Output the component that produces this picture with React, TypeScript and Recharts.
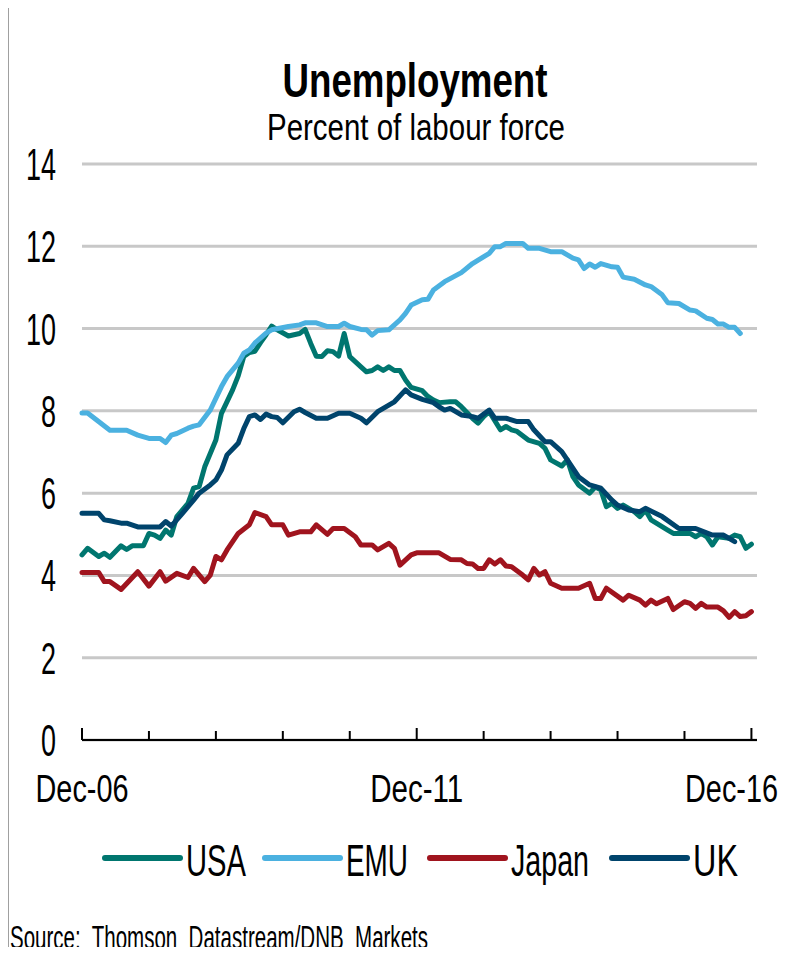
import React from "react";
import { LineChart, Line, XAxis, YAxis, CartesianGrid } from "recharts";

// month index: 0 = Dec-06, 120 = Dec-16
const usa: [number, number][] = [
  [0, 4.5], [1, 4.66], [3, 4.46], [4, 4.54], [5, 4.44], [7, 4.72], [8, 4.63], [9, 4.72], [11, 4.72],
  [12, 5.02], [13, 4.98], [14, 4.9], [15, 5.1], [16, 4.98], [17, 5.43], [19, 5.75], [20, 6.12],
  [21, 6.16], [22, 6.64], [24, 7.29], [25, 7.94], [27, 8.51], [28, 8.85], [29, 9.32], [30, 9.42],
  [31, 9.45], [32, 9.66], [33, 9.85], [34, 10.06], [35, 9.97], [37, 9.82], [39, 9.88], [40, 9.98],
  [41, 9.64], [42, 9.33], [43, 9.32], [44, 9.46], [45, 9.44], [46, 9.33], [47, 9.88], [48, 9.32],
  [50, 9.07], [51, 8.95], [52, 8.98], [53, 9.07], [54, 8.98], [55, 9.07], [56, 8.98], [57, 8.98],
  [58, 8.75], [59, 8.57], [61, 8.49], [62, 8.35], [63, 8.26], [64, 8.2], [66, 8.22], [67, 8.22],
  [68, 8.1], [70, 7.82], [71, 7.7], [72, 7.86], [73, 7.98], [75, 7.54], [76, 7.62], [77, 7.54],
  [78, 7.5], [80, 7.29], [82, 7.21], [83, 7.09], [84, 6.81], [86, 6.66], [87, 6.81], [88, 6.4],
  [89, 6.2], [91, 6.0], [92, 6.15], [93, 6.08], [94, 5.67], [95, 5.75], [96, 5.63], [97, 5.71],
  [99, 5.55], [100, 5.43], [101, 5.59], [102, 5.35], [105, 5.1], [106, 5.02], [109, 5.02],
  [110, 4.94], [111, 5.02], [112, 4.94], [113, 4.74], [114, 4.94], [116, 4.9], [117, 4.98],
  [118, 4.94], [119, 4.66], [120, 4.76],
];

const emu: [number, number][] = [
  [0, 7.95], [1, 7.95], [5, 7.53], [8, 7.53], [10, 7.41], [12, 7.33], [14, 7.33], [15, 7.23],
  [16, 7.41], [17, 7.45], [19, 7.58], [20, 7.63], [21, 7.66], [23, 8.02], [25, 8.59], [26, 8.83],
  [28, 9.16], [29, 9.4], [30, 9.48], [31, 9.65], [33, 9.89], [34, 9.97], [37, 10.05], [39, 10.09],
  [40, 10.14], [42, 10.14], [44, 10.05], [46, 10.05], [47, 10.13], [48, 10.05], [50, 9.98],
  [51, 9.97], [52, 9.84], [53, 9.95], [55, 9.97], [56, 10.09], [57, 10.21], [58, 10.37],
  [59, 10.57], [61, 10.7], [62, 10.71], [63, 10.94], [65, 11.14], [68, 11.36], [70, 11.58],
  [73, 11.83], [74, 11.99], [75, 11.99], [76, 12.07], [79, 12.07], [80, 11.95], [82, 11.95],
  [84, 11.87], [86, 11.87], [88, 11.71], [89, 11.67], [90, 11.46], [91, 11.57], [92, 11.49],
  [93, 11.58], [95, 11.5], [96, 11.49], [97, 11.25], [99, 11.2], [101, 11.06], [102, 11.02],
  [104, 10.82], [105, 10.63], [107, 10.61], [109, 10.45], [110, 10.43], [112, 10.25], [113, 10.22],
  [114, 10.11], [115, 10.11], [116, 10.03], [117, 10.03], [118, 9.88],
];

const japan: [number, number][] = [
  [0, 4.07], [3, 4.07], [4, 3.85], [5, 3.85], [7, 3.66], [10, 4.09], [12, 3.74], [14, 4.09],
  [15, 3.86], [17, 4.05], [19, 3.95], [20, 4.17], [22, 3.85], [23, 4.01], [24, 4.46], [25, 4.38],
  [26, 4.62], [28, 5.02], [30, 5.23], [31, 5.53], [33, 5.43], [34, 5.23], [36, 5.23], [37, 4.98],
  [39, 5.06], [41, 5.06], [42, 5.23], [44, 5.0], [45, 5.14], [47, 5.14], [49, 4.94], [50, 4.74],
  [52, 4.74], [53, 4.62], [55, 4.78], [56, 4.66], [57, 4.25], [59, 4.5], [60, 4.55], [64, 4.55],
  [66, 4.39], [68, 4.38], [69, 4.29], [70, 4.28], [71, 4.17], [72, 4.17], [73, 4.38], [74, 4.28],
  [75, 4.38], [76, 4.23], [77, 4.21], [79, 4.01], [80, 3.89], [81, 4.17], [82, 4.01], [83, 4.09],
  [84, 3.81], [86, 3.69], [89, 3.69], [91, 3.81], [92, 3.44], [93, 3.44], [94, 3.69], [97, 3.4],
  [98, 3.52], [100, 3.4], [101, 3.28], [102, 3.4], [103, 3.31], [105, 3.44], [106, 3.17],
  [108, 3.36], [109, 3.32], [110, 3.2], [111, 3.32], [112, 3.23], [114, 3.23], [115, 3.14],
  [116, 2.98], [117, 3.12], [118, 3.0], [119, 3.02], [120, 3.12],
];

const uk: [number, number][] = [
  [0, 5.51], [3, 5.51], [4, 5.35], [5, 5.33], [7, 5.27], [8, 5.27], [10, 5.18], [14, 5.18],
  [15, 5.31], [16, 5.2], [18, 5.51], [20, 5.83], [21, 6.0], [23, 6.2], [24, 6.32], [25, 6.56],
  [26, 6.93], [28, 7.21], [29, 7.57], [30, 7.86], [31, 7.9], [32, 7.79], [33, 7.92], [34, 7.86],
  [35, 7.84], [36, 7.71], [38, 7.98], [39, 8.04], [40, 7.96], [42, 7.82], [44, 7.82], [46, 7.94],
  [48, 7.94], [50, 7.82], [51, 7.71], [53, 7.98], [56, 8.22], [58, 8.51], [59, 8.39], [61, 8.28],
  [63, 8.2], [64, 8.1], [65, 8.02], [66, 8.06], [68, 7.9], [70, 7.86], [71, 7.82], [73, 8.02],
  [74, 7.82], [76, 7.82], [78, 7.74], [80, 7.74], [81, 7.54], [83, 7.25], [84, 7.25], [86, 7.01],
  [87, 6.81], [89, 6.4], [91, 6.2], [93, 6.12], [95, 5.83], [96, 5.71], [98, 5.59], [100, 5.55],
  [101, 5.63], [104, 5.43], [107, 5.14], [110, 5.14], [113, 4.98], [115, 4.98], [117, 4.82],
];

const yTicks = [0, 2, 4, 6, 8, 10, 12, 14];
const xTicks = [0, 12, 24, 36, 48, 60, 72, 84, 96, 108, 120];
const xLabelMonths = [0, 60, 120];
const xLabels = ["Dec-06", "Dec-11", "Dec-16"];

const series = [
  { key: "usa", name: "USA", color: "#00766f", points: usa },
  { key: "emu", name: "EMU", color: "#4bb1e0", points: emu },
  { key: "japan", name: "Japan", color: "#a0141e", points: japan },
  { key: "uk", name: "UK", color: "#00446c", points: uk },
];

// one row per month, gaps where nothing was read
const rows = Array.from({ length: 121 }, (_, m) => {
  const row: Record<string, number | null> = { m };
  series.forEach((s) => {
    const hit = s.points.find((p) => p[0] === m);
    row[s.key] = hit ? hit[1] : null;
  });
  return row;
});

const FONT = '"Liberation Sans Narrow", "Arial Narrow", "Liberation Sans", Arial, sans-serif';

const FitText = ({ x, y, size, width, anchor = "start", bold = false, children }: any) => (
  <text
    x={x}
    y={y}
    fontSize={size}
    fontFamily={FONT}
    fontWeight={bold ? 700 : 400}
    textAnchor={anchor}
    textLength={width}
    lengthAdjust="spacingAndGlyphs"
    fill="#000"
    style={{ whiteSpace: "pre" }}
  >
    {children}
  </text>
);

const YTick = ({ y, payload }: any) => {
  const label = String(payload.value);
  return (
    <FitText x={56} y={y + 16} size={44} width={label.length * 15} anchor="end">
      {label}
    </FitText>
  );
};

const XTick = ({ x, y, payload }: any) => {
  const idx = xLabelMonths.indexOf(payload.value);
  const last = idx === xLabels.length - 1;
  return (
    <g>
      <line x1={x} x2={x} y1={y} y2={y - (idx >= 0 ? 12 : 9)} stroke="#000" strokeWidth={2} />
      {idx >= 0 && (
        <FitText x={last ? 778 : x} y={y + 62} size={38} width={93} anchor={last ? "end" : "middle"}>
          {xLabels[idx]}
        </FitText>
      )}
    </g>
  );
};

const legendX = [105, 265, 430, 612];
const legendW = [60, 62, 78, 45];

export default function App() {
  return (
    <div style={{ position: "relative", width: 808, height: 955, margin: -8, background: "#fff" }}>
      <LineChart
        width={808}
        height={955}
        data={rows}
        margin={{ top: 164, right: 51, bottom: 0, left: 0 }}
      >
        <CartesianGrid vertical={false} stroke="#c8c8c8" strokeWidth={3} />
        <XAxis
          dataKey="m"
          type="number"
          domain={[0, 121]}
          ticks={xTicks}
          interval={0}
          height={215}
          tickSize={0}
          tickMargin={0}
          tickLine={false}
          axisLine={{ stroke: "#000", strokeWidth: 2 }}
          tick={<XTick />}
        />
        <YAxis
          width={82}
          domain={[0, 14]}
          ticks={yTicks}
          interval={0}
          axisLine={false}
          tickLine={false}
          tick={<YTick />}
        />
        {series.map((s) => (
          <Line
            key={s.key}
            dataKey={s.key}
            name={s.name}
            type="linear"
            stroke={s.color}
            strokeWidth={5}
            strokeLinejoin="round"
            strokeLinecap="round"
            dot={false}
            activeDot={false}
            connectNulls
            isAnimationActive={false}
          />
        ))}
      </LineChart>
      <svg
        width={808}
        height={955}
        style={{ position: "absolute", left: 0, top: 0, pointerEvents: "none" }}
      >
        <rect x={7} y={0} width={2} height={955} fill="#a0a0a0" />
        <FitText x={415} y={97} size={48} width={265} anchor="middle" bold>
          Unemployment
        </FitText>
        <FitText x={416} y={140} size={37} width={298} anchor="middle">
          Percent of labour force
        </FitText>
        {series.map((s, i) => (
          <g key={s.key}>
            <line
              x1={legendX[i]}
              x2={legendX[i] + 75}
              y1={858}
              y2={858}
              stroke={s.color}
              strokeWidth={6}
              strokeLinecap="round"
            />
            <FitText x={legendX[i] + 81} y={876} size={44} width={legendW[i]}>
              {s.name}
            </FitText>
          </g>
        ))}
        <FitText x={10} y={949} size={34} width={418}>
          {"Source:  Thomson  Datastream/DNB  Markets"}
        </FitText>
      </svg>
    </div>
  );
}
